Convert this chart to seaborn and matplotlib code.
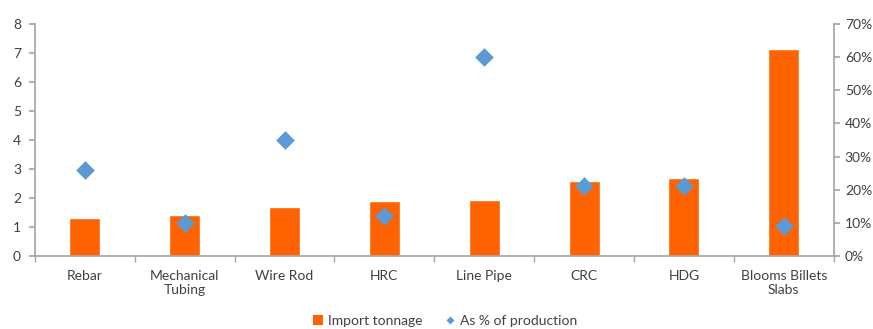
import matplotlib
matplotlib.use("Agg")
import matplotlib.pyplot as plt
import seaborn as sns
import pandas as pd
from matplotlib.lines import Line2D
from matplotlib.patches import Patch
from matplotlib.ticker import FuncFormatter, MultipleLocator, FixedLocator

categories = ["Rebar", "Mechanical\nTubing", "Wire Rod", "HRC", "Line Pipe", "CRC", "HDG", "Blooms Billets\nSlabs"]
import_tonnage = [1.3, 1.4, 1.68, 1.88, 1.92, 2.6, 2.7, 7.14]
pct_production = [26, 10, 35, 12, 60, 21, 21, 9]

orange = "#FF6200"
blue = "#5B9BD5"
text_c = "#404040"
axis_c = "#A6A6A6"

sns.set_theme(style="white")
plt.rcParams['font.family'] = ['Lato', 'DejaVu Sans']

df = pd.DataFrame({"cat": categories, "tonnage": import_tonnage, "pct": pct_production})

fig = plt.figure(figsize=(8.73, 3.29), dpi=100)
ax = fig.add_axes([0.040, 0.222, 0.915, 0.705])
sns.barplot(data=df, x="cat", y="tonnage", color=orange, width=0.31, saturation=1, ax=ax)
ax2 = ax.twinx()
sns.stripplot(data=df, x="cat", y="pct", color=blue, marker="D", size=9.5, jitter=False, ax=ax2, zorder=5)

ax.set_xlim(-0.5, len(categories) - 0.5)
ax.set_ylim(0, 8)
ax2.set_ylim(0, 70)
ax.yaxis.set_major_locator(MultipleLocator(1))
ax2.yaxis.set_major_locator(MultipleLocator(10))
ax2.yaxis.set_major_formatter(FuncFormatter(lambda v, p: f"{int(v)}%"))

for a in (ax, ax2):
    a.set_xlabel("")
    a.set_ylabel("")
    for s in a.spines.values():
        s.set_visible(False)

ax.spines["left"].set_visible(True)
ax.spines["left"].set_color(axis_c)
ax.spines["bottom"].set_visible(True)
ax.spines["bottom"].set_color(axis_c)
ax2.spines["right"].set_visible(True)
ax2.spines["right"].set_color(axis_c)

fs = 10
ax.tick_params(axis="y", which="major", length=4, color=axis_c, labelcolor=text_c, labelsize=fs, left=True, direction="out", pad=6)
ax2.tick_params(axis="y", which="major", length=4, color=axis_c, labelcolor=text_c, labelsize=fs, right=True, direction="out", pad=4)
ax.xaxis.set_minor_locator(FixedLocator([i - 0.5 for i in range(len(categories) + 1)]))
ax.tick_params(axis="x", which="major", length=0, labelcolor=text_c, labelsize=fs, pad=10)
ax.tick_params(axis="x", which="minor", length=4, color=axis_c, bottom=True, direction="out")
ax2.tick_params(axis="x", which="both", length=0)

handles = [Patch(facecolor=orange, edgecolor="none", label="Import tonnage"),
           Line2D([0], [0], marker="D", color="none", markerfacecolor=blue, markeredgecolor="none", markersize=4, label="As % of production")]
leg = fig.legend(handles=handles, loc="lower center", bbox_to_anchor=(0.51, 0.0), ncol=2, frameon=False,
                 fontsize=fs, handlelength=0.7, handleheight=0.7, handletextpad=0.4, columnspacing=1.6,
                 borderaxespad=0.0, borderpad=0.15)
for t in leg.get_texts():
    t.set_color(text_c)

fig.savefig("out.png", dpi=100)
